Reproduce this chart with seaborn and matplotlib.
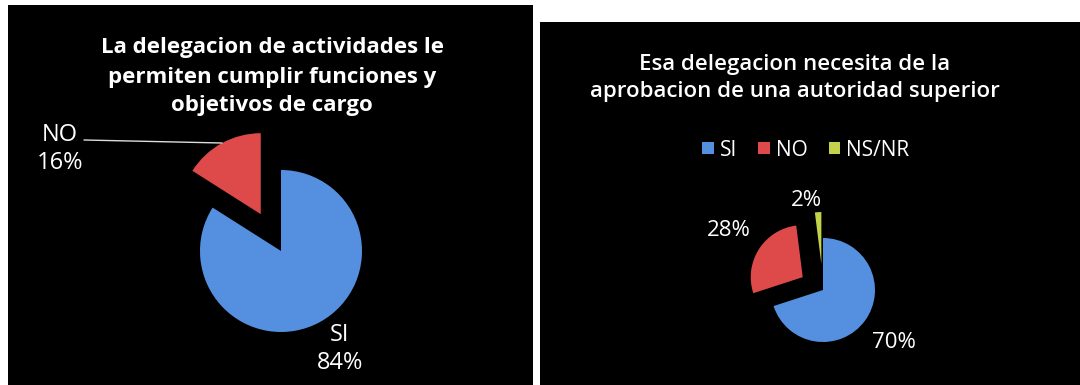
import matplotlib
matplotlib.use("Agg")
import matplotlib.pyplot as plt
from matplotlib.patches import Patch
import seaborn as sns

# Survey answers for the two questions
left_title = "La delegacion de actividades le\npermiten cumplir funciones y\nobjetivos de cargo"
left_labels = ["SI", "NO"]
left_values = [84, 16]

right_title = "Esa delegacion necesita de la\naprobacion de una autoridad superior"
right_labels = ["SI", "NO", "NS/NR"]
right_values = [70, 28, 2]

sns.set_theme(style="dark")
plt.rcParams["font.family"] = ["Open Sans", "DejaVu Sans"]

palette = sns.color_palette(["#5590e0", "#de4a4a", "#c3d24a"])

W, H = 1080, 385
fig = plt.figure(figsize=(W / 100, H / 100), dpi=100, facecolor="white")


def panel(x0, x1, y_top):
    """Black panel whose data units are pixels (y measured upward from the bottom)."""
    ax = fig.add_axes([x0 / W, 0, (x1 - x0) / W, (H - y_top) / H])
    ax.set_facecolor("black")
    ax.grid(False)
    return ax


def finish(ax, x0, x1, y_top):
    ax.set_xlim(x0, x1)
    ax.set_ylim(0, H - y_top)
    ax.set_xticks([])
    ax.set_yticks([])
    for s in ax.spines.values():
        s.set_visible(False)


def img_y(y):
    return H - y


# ---- Left panel ----
axl = panel(8, 533, 5)
# explode offsets are in data units (pixels here)
axl.pie(left_values, colors=palette[:2], startangle=90, counterclock=False,
        center=(281, img_y(251)), radius=81, explode=[0, 42],
        wedgeprops=dict(linewidth=0), frame=True)
finish(axl, 8, 533, 5)
axl.text(272, img_y(77), left_title, ha="center", va="center", color="white",
         fontsize=16, fontweight="bold", linespacing=1.5)
axl.text(60, img_y(149), f"{left_labels[1]}\n{left_values[1]}%", ha="center",
         va="center", color="white", fontsize=17, linespacing=1.2)
axl.plot([84, 222], [img_y(140), img_y(143)], color="#dddddd", lw=1)
axl.text(340, img_y(349), f"{left_labels[0]}\n{left_values[0]}%", ha="center",
         va="center", color="white", fontsize=17, linespacing=1.2)

# ---- Right panel ----
axr = panel(540, 1080, 22)
axr.pie(right_values, colors=palette, startangle=90, counterclock=False,
        center=(823, img_y(290)), radius=52, explode=[0, 24, 26],
        wedgeprops=dict(linewidth=0), frame=True)
finish(axr, 540, 1080, 22)
axr.text(795, img_y(78), right_title, ha="center", va="center", color="white",
         fontsize=16, fontweight="semibold", linespacing=1.35)

handles = [Patch(facecolor=c, edgecolor="none") for c in palette]
axr.legend(handles, right_labels, loc="center", bbox_to_anchor=(806, img_y(150)),
           bbox_transform=axr.transData, ncol=3, frameon=False,
           labelcolor="white", fontsize=15, handlelength=0.55, handleheight=0.55,
           handletextpad=0.3, columnspacing=1.0)

axr.text(806, img_y(200), f"{right_values[2]}%", ha="center", va="center",
         color="white", fontsize=16)
axr.text(729, img_y(230), f"{right_values[1]}%", ha="center", va="center",
         color="white", fontsize=16)
axr.text(894, img_y(343), f"{right_values[0]}%", ha="center", va="center",
         color="white", fontsize=16)

fig.savefig("out.png", dpi=100, facecolor="white")
